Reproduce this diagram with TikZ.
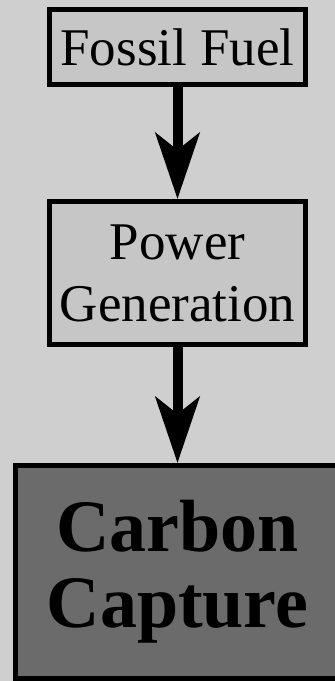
\documentclass[tikz,border=0pt]{standalone}
\usepackage{fontspec}
\setmainfont{Liberation Serif}
\usepackage{xcolor}
\usetikzlibrary{arrows.meta,positioning}

\definecolor{bggray}{HTML}{CFCFCF}
\definecolor{boxgray}{HTML}{C6C6C6}
\definecolor{darkbox}{HTML}{6B6B6B}

\begin{document}
\begin{tikzpicture}[
  >={Stealth[length=66pt,width=44pt,inset=17pt]},
  box/.style={draw,line width=5pt,fill=boxgray,align=center,
    font=\fontsize{53}{62}\selectfont,inner sep=0pt},
  stage/.style={box,minimum width=256pt},
  capture/.style={box,fill=darkbox,minimum width=325pt,minimum height=213pt,
    font=\fontsize{74}{76}\selectfont\bfseries},
  flow/.style={->,line width=10pt}
]
\clip (0,0) rectangle (335pt,-681pt);
\fill[bggray] (0,0) rectangle (335pt,-681pt);
\node[stage,minimum height=75pt] (fuel) at (177.5pt,-47pt) {Fossil Fuel};
\node[stage,minimum height=143pt,below=112pt of fuel] (power) {Power\\Generation};
\node[capture,below=116pt of power] (carbon) {Carbon\\Capture};
\draw[flow] (fuel)--(power); \draw[flow] (power)--(carbon);
\end{tikzpicture}
\end{document}
